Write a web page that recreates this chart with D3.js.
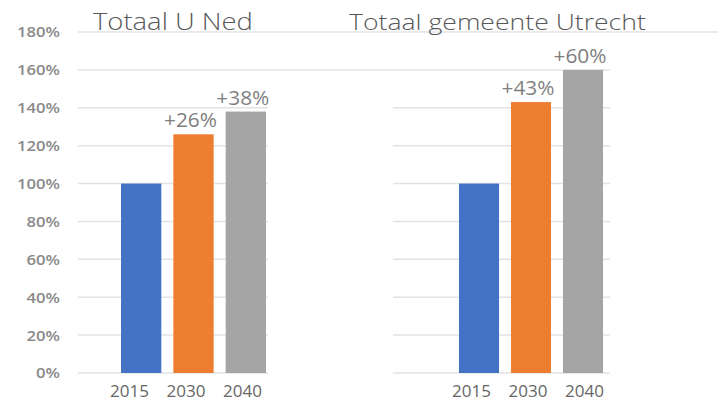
<!DOCTYPE html>
<html>
<head>
<meta charset="utf-8">
<script src="https://cdn.jsdelivr.net/npm/d3@7/dist/d3.min.js"></script>
<style>
  html, body { margin: 0; padding: 0; background: #fff; }
  svg { display: block; }
  text { font-family: "Open Sans", "Noto Sans", sans-serif; }
</style>
</head>
<body>
<svg id="chart" width="718" height="402"></svg>
<script>
// ---- data ----
const categories = ["2015", "2030", "2040"];
const panelTitles = ["Totaal U Ned", "Totaal gemeente Utrecht"];
const nedValues = [100, 126, 138];
const utrechtValues = [100, 143, 160];
const nedLabels = ["", "+26%", "+38%"];
const utrechtLabels = ["", "+43%", "+60%"];
const yTicks = [0, 20, 40, 60, 80, 100, 120, 140, 160, 180];
const barColors = ["#4472C4", "#ED7D31", "#A5A5A5"];

const svg = d3.select("#chart");
const y = d3.scaleLinear().domain([0, 180]).range([373, 32]);

const panels = [
  { title: panelTitles[0], values: nedValues, labels: nedLabels,
    barRange: [115, 272], catRange: [129, 242], gridRange: [78, 268],
    titleX: 93, titleSize: 24, titleWidth: 160 },
  { title: panelTitles[1], values: utrechtValues, labels: utrechtLabels,
    barRange: [453, 609], catRange: [471, 584], gridRange: [393, 610],
    titleX: 349, titleSize: 22, titleWidth: 297 }
];

const gridColor = "#e3e3e3";
const textGray = "#7f7f7f";

// measure helper: horizontal scale so that the text reaches a target width
function widthOf(str, size, weight) {
  const t = svg.append("text").style("font-size", size + "px")
    .style("font-weight", weight || 400).text(str);
  const w = t.node().getComputedTextLength();
  t.remove();
  return w;
}
const sxTick = 43 / widthOf("180%", 14);
const sxVal = 53 / widthOf("+26%", 20);
const sxCat = 39 / widthOf("2015", 17);

// gridlines
panels.forEach(p => {
  svg.append("g").selectAll("line")
    .data(yTicks.filter(t => t <= 140))
    .join("line")
    .attr("x1", p.gridRange[0]).attr("x2", p.gridRange[1])
    .attr("y1", d => y(d)).attr("y2", d => y(d))
    .attr("stroke", gridColor).attr("stroke-width", 1.5);
});
svg.append("line").attr("x1", 78).attr("x2", 610)
  .attr("y1", y(160)).attr("y2", y(160))
  .attr("stroke", gridColor).attr("stroke-width", 1.5);
svg.append("line").attr("x1", 78).attr("x2", 718)
  .attr("y1", y(180)).attr("y2", y(180))
  .attr("stroke", gridColor).attr("stroke-width", 1.5);

// y axis labels
const yAxis = d3.axisLeft(y).tickValues(yTicks).tickFormat(d => d + "%").tickSize(0).tickPadding(0);
const yg = svg.append("g").attr("transform", "translate(60,0)").call(yAxis);
yg.select(".domain").remove();
yg.attr("font-family", null).attr("font-size", null);
yg.selectAll("text")
  .attr("fill", "#8a8a8a")
  .style("font-size", "14px")
  .style("font-weight", 600)
  .attr("x", 0)
  .attr("dy", "0.35em")
  .attr("transform", `scale(${43 / widthOf("180%", 14, 600)},1)`);

panels.forEach(p => {
  const x = d3.scaleBand().domain(categories).range(p.barRange)
    .paddingInner(0.23).paddingOuter(0.115);
  const xc = d3.scalePoint().domain(categories).range(p.catRange);

  const g = svg.append("g");
  g.selectAll("rect")
    .data(categories)
    .join("rect")
    .attr("x", d => x(d))
    .attr("width", x.bandwidth())
    .attr("y", (d, i) => y(p.values[i]))
    .attr("height", (d, i) => y(0) - y(p.values[i]))
    .attr("fill", (d, i) => barColors[i]);

  // value labels
  g.selectAll("text.val")
    .data(categories)
    .join("text")
    .attr("class", "val")
    .attr("text-anchor", "middle")
    .attr("transform", (d, i) => `translate(${x(d) + x.bandwidth() / 2 - 3},${y(p.values[i]) - 7}) scale(${sxVal},1)`)
    .attr("fill", textGray)
    .style("font-size", "20px")
    .text((d, i) => p.labels[i]);

  // category axis
  const xAxis = d3.axisBottom(xc).tickSize(0).tickPadding(0);
  const xg = g.append("g").attr("transform", "translate(0,397)").call(xAxis);
  xg.select(".domain").remove();
  xg.attr("font-family", null).attr("font-size", null);
  xg.selectAll("text")
    .attr("fill", "#666")
    .attr("dy", 0)
    .attr("y", 0)
    .attr("transform", `scale(${sxCat},1)`)
    .style("font-size", "17px");

  // title
  const sxT = p.titleWidth / widthOf(p.title, p.titleSize, 300);
  svg.append("text")
    .attr("transform", `translate(${p.titleX},30) scale(${sxT},1)`)
    .attr("fill", "#595959")
    .style("font-size", p.titleSize + "px")
    .style("font-weight", 300)
    .text(p.title);
});
</script>
</body>
</html>
